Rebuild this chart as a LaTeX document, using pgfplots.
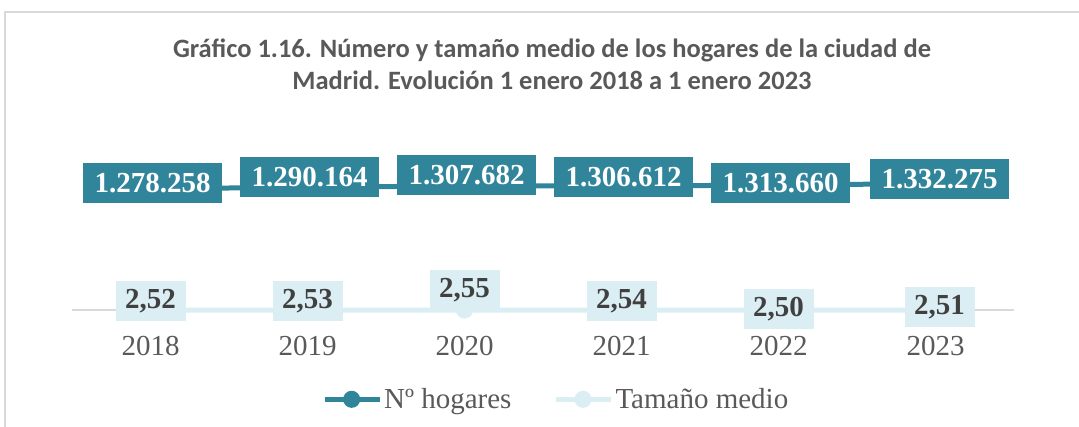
\documentclass[border=0pt]{standalone}
\usepackage{fontspec}
\setmainfont{Liberation Serif}
\newfontfamily\titlefont{Carlito}
\usepackage{pgfplots}
\pgfplotsset{compat=1.18}
\definecolor{tealdark}{RGB}{49,133,155}
\definecolor{lightb}{RGB}{218,238,243}
\definecolor{txtgray}{RGB}{89,89,89}
\definecolor{labgray}{RGB}{64,64,64}
\definecolor{axisgray}{RGB}{217,217,217}

\begin{document}
\begin{tikzpicture}[
  hl/.style={fill=tealdark, text=white, font=\bfseries\fontsize{29}{29}\selectfont,
    minimum width=139pt, minimum height=40pt, inner sep=0pt},
  tl/.style={fill=lightb, text=labgray, font=\bfseries\fontsize{29}{29}\selectfont,
    minimum width=70pt, minimum height=40pt, inner sep=0pt}]
\useasboundingbox (0pt,0pt) rectangle (1079pt,426pt);
\draw[axisgray, line width=1.5pt] (5pt,-20pt) -- (5pt,414pt) -- (1100pt,414pt);
\node[font=\titlefont\bfseries\fontsize{26.5}{32}\selectfont, text=txtgray, align=center]
  at (552pt,362pt) {Gráfico 1.16. Número y tamaño medio de los hogares de la ciudad de\\
  Madrid. Evolución 1 enero 2018 a 1 enero 2023};
\begin{axis}[
  at={(72pt,116pt)}, anchor=south west,
  scale only axis, width=942pt, height=190pt,
  xmin=-0.5, xmax=5.5, ymin=0, ymax=2000000,
  axis x line=bottom, axis y line=none,
  x axis line style={draw=axisgray, line width=1.5pt, -},
  xtick={0,...,5}, xticklabels={2018,2019,2020,2021,2022,2023},
  major tick length=0pt,
  tick label style={font=\fontsize{29}{30}\selectfont, text=txtgray},
  xticklabel style={yshift=-23pt},
  clip=false,
  legend style={at={(0.514,-0.47)}, anchor=center, draw=none, fill=none,
    legend columns=2, font=\fontsize{29}{30}\selectfont, text=txtgray,
    /tikz/every even column/.append style={column sep=40pt}},
  legend image code/.code={\draw[mark repeat=2, mark phase=2, #1]
    plot coordinates {(0pt,0pt) (27pt,0pt) (55pt,0pt)};},
]
\addplot[tealdark, line width=5pt, mark=*, mark size=6pt,
  mark options={fill=tealdark, draw=tealdark}] coordinates {
  (0,1278258) (1,1290164) (2,1307682) (3,1306612) (4,1313660) (5,1332275)};
\addlegendentry{Nº hogares}
\addplot[lightb, line width=5pt, mark=*, mark size=6pt,
  mark options={fill=lightb, draw=lightb}] coordinates {
  (0,2.52) (1,2.53) (2,2.55) (3,2.54) (4,2.50) (5,2.51)};
\addlegendentry{Tamaño medio}

\coordinate (h0) at (axis cs:0,1278258);
\coordinate (h1) at (axis cs:1,1290164);
\coordinate (h2) at (axis cs:2,1307682);
\coordinate (h3) at (axis cs:3,1306612);
\coordinate (h4) at (axis cs:4,1313660);
\coordinate (h5) at (axis cs:5,1332275);
\coordinate (t0) at (axis cs:0,2.52);
\coordinate (t1) at (axis cs:1,2.53);
\coordinate (t2) at (axis cs:2,2.55);
\coordinate (t3) at (axis cs:3,2.54);
\coordinate (t4) at (axis cs:4,2.50);
\coordinate (t5) at (axis cs:5,2.51);
\end{axis}
\node[hl, yshift=5.6pt, xshift=2pt] at (h0) {1.278.258};
\node[hl, yshift=10.4pt, xshift=2pt] at (h1) {1.290.164};
\node[hl, yshift=10.3pt, xshift=2pt] at (h2) {1.307.682};
\node[hl, yshift=8.4pt, xshift=2pt] at (h3) {1.306.612};
\node[hl, yshift=2.2pt, xshift=2pt] at (h4) {1.313.660};
\node[hl, yshift=4.4pt, xshift=4pt] at (h5) {1.332.275};
\node[tl, yshift=9pt] at (t0) {2,52};
\node[tl, yshift=9pt] at (t1) {2,53};
\node[tl, yshift=19.5pt] at (t2) {2,55};
\node[tl, yshift=9pt] at (t3) {2,54};
\node[tl, yshift=1pt] at (t4) {2,50};
\node[tl, yshift=3pt, xshift=4pt] at (t5) {2,51};
\end{tikzpicture}
\end{document}
